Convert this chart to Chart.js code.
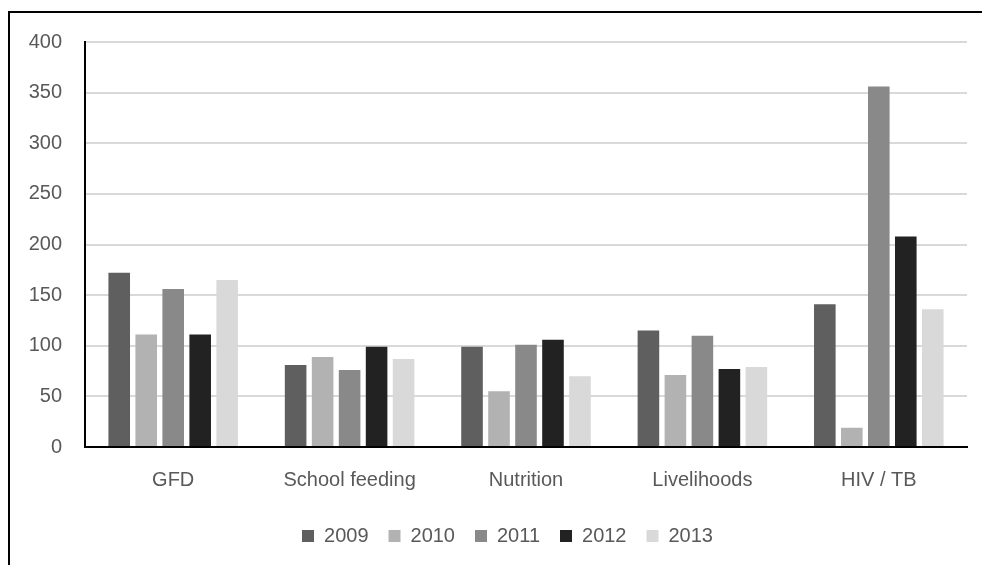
<!DOCTYPE html>
<html>
<head>
<meta charset="utf-8">
<script src="https://cdn.jsdelivr.net/npm/chart.js@4.4.1/dist/chart.umd.min.js"></script>
<style>
  html, body { margin: 0; padding: 0; background: #fff; }
  body { width: 982px; height: 565px; position: relative; overflow: hidden; }
  #frame { position: absolute; left: 8px; top: 11px; width: 980px; height: 560px;
           border-left: 2px solid #000; border-top: 2px solid #000; }
  #wrap { position: absolute; left: 0; top: 0; width: 982px; height: 565px; }
</style>
</head>
<body>
<div id="frame"></div>
<div id="wrap"><canvas id="chart" width="982" height="565"></canvas></div>
<script>
// Programme categories and yearly values
const categories = ['GFD', 'School feeding', 'Nutrition', 'Livelihoods', 'HIV / TB'];
const years = ['2009', '2010', '2011', '2012', '2013'];
const values2009 = [172, 81, 99, 115, 141];
const values2010 = [111, 89, 55, 71, 19];
const values2011 = [156, 76, 101, 110, 356];
const values2012 = [111, 99, 106, 77, 208];
const values2013 = [165, 87, 70, 79, 136];
const yTicks = [0, 50, 100, 150, 200, 250, 300, 350, 400];

const seriesValues = [values2009, values2010, values2011, values2012, values2013];
const seriesColors = ['#5f5f5f', '#b2b2b2', '#898989', '#222222', '#d9d9d9'];

const FONT = "'Liberation Sans', Arial, sans-serif";
const FONT_SIZE = 20;

// Nudge the bottom legend a little to the right of the canvas centre
const legendShift = {
  id: 'legendShift',
  afterLayout(chart) {
    const lg = chart.legend;
    if (lg) { lg.left += 24; lg.right += 24; }
  }
};

new Chart(document.getElementById('chart'), {
  type: 'bar',
  data: {
    labels: categories,
    datasets: years.map((y, i) => ({
      label: y,
      data: seriesValues[i],
      backgroundColor: seriesColors[i],
      borderWidth: 0,
      categoryPercentage: 0.765,
      barPercentage: 0.8
    }))
  },
  options: {
    responsive: false,
    animation: false,
    devicePixelRatio: 1,
    layout: { padding: { left: 0, right: 15, top: 42, bottom: 9 } },
    plugins: {
      tooltip: { enabled: false },
      legend: {
        position: 'bottom',
        labels: {
          boxWidth: 12,
          boxHeight: 12,
          padding: 20,
          color: '#595959',
          font: { family: FONT, size: FONT_SIZE }
        }
      }
    },
    scales: {
      x: {
        grid: { display: false, drawTicks: false },
        border: { display: true, color: '#000', width: 2 },
        ticks: { color: '#595959', padding: 21, font: { family: FONT, size: FONT_SIZE } },
        afterFit: (s) => { s.height = 59; }
      },
      y: {
        min: 0,
        max: 400,
        afterBuildTicks: (s) => { s.ticks = yTicks.map(v => ({ value: v })); },
        grid: { color: '#d9d9d9', lineWidth: 2, drawTicks: false },
        border: { display: true, color: '#000', width: 2 },
        ticks: { color: '#595959', padding: 23, font: { family: FONT, size: FONT_SIZE } },
        afterFit: (s) => { s.width = 85; }
      }
    }
  },
  plugins: [legendShift]
});
</script>
</body>
</html>
